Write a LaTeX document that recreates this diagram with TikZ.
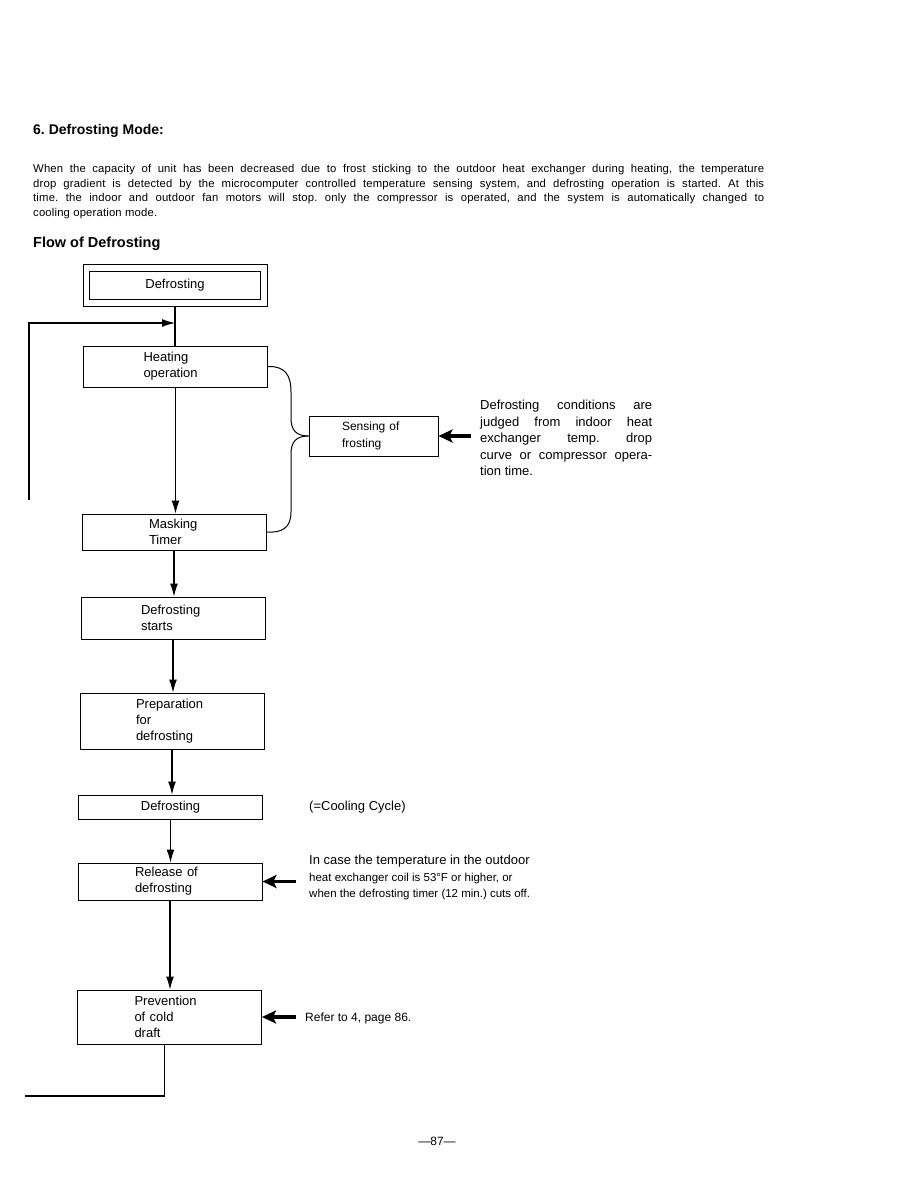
\documentclass[tikz,border=0pt]{standalone}
\usepackage{fontspec}
\setmainfont{Liberation Sans}
\newfontfamily\bodyfont{Liberation Sans}[LetterSpace=1.5]
\usepackage{tikz}
\usetikzlibrary{arrows.meta,positioning}
\frenchspacing

\begin{document}
\begin{tikzpicture}[x=1pt, y=-1pt,
    stepbox/.style={rectangle, draw, line width=1pt, minimum width=184pt, text width=#1, align=left, inner sep=0pt, font=\fontsize{13}{16}\selectfont},
    stepbox/.default=70pt,
    note/.style={align=left, inner sep=0pt, font=\fontsize{13}{16.5}\selectfont},
    flow/.style={-{Latex[length=13pt,width=8pt]}, line width=1.1pt},
    push/.style={-{Stealth[length=14pt,width=13pt,inset=3pt]}, line width=3.5pt}]
    \useasboundingbox[fill=white] (0,0) rectangle (918,1188);

    % Heading and text
    \node[anchor=base west, inner sep=0pt, font=\bfseries\fontsize{14}{16}\selectfont] (title) at (33,135) {6. Defrosting Mode:};
    \node[anchor=north west, text width=731pt, align=justify, inner sep=0pt, font=\bodyfont\fontsize{11.3}{14.7}\selectfont] (intro) at (33,164)
        {When the capacity of unit has been decreased due to frost sticking to the outdoor heat exchanger during heating, the temperature\linebreak
        drop gradient is detected by the microcomputer controlled temperature sensing system, and defrosting operation is started. At this\linebreak
        time. the indoor and outdoor fan motors will stop. only the compressor is operated, and the system is automatically changed to\linebreak
        cooling operation mode.};
    \node[anchor=base west, inner sep=0pt, font=\bfseries\fontsize{14.5}{17}\selectfont] (flowtitle) at (33,247) {Flow of Defrosting};

    % Boxes
    \node[rectangle, draw, line width=1pt, double, double distance=5.5pt, minimum width=177.5pt, minimum height=35pt, outer sep=3.75pt, font=\fontsize{13}{16}\selectfont] (top) at (175,285.5) {Defrosting};
    \node[stepbox=64pt, minimum height=41pt] (heat) at (175.5,366.5) {Heating\\operation};
    \node[stepbox=50pt, minimum height=36pt] (mask) at (174,532) {Masking\\Timer};
    \node[stepbox=64pt, minimum height=42pt] (start) at (173,618) {Defrosting\\starts};
    \node[stepbox=72pt, minimum height=56pt] (prep) at (172,721) {Preparation\\for\\defrosting};
    \node[stepbox, align=center, minimum height=24pt] (defr) at (170.5,807) {Defrosting};
    \node[stepbox, minimum height=37pt] (release) at (170,881.5) {Release of\\defrosting};
    \node[stepbox, minimum height=54pt] (prev) at (169.5,1017) {Prevention\\of cold\\draft};
    \node[stepbox=63pt, minimum width=129pt, minimum height=40pt, font=\fontsize{12}{17}\selectfont] (sens) at (373.5,436) {Sensing of\\frosting};

    % Notes
    \node[note, anchor=north west, text width=172pt, align=justify] (cond) at (480,400)
        {Defrosting conditions are\linebreak judged from indoor heat\linebreak exchanger temp. drop\linebreak curve or compressor opera-\linebreak tion time.};
    \node[note, anchor=west] (cool) at (309,807) {(=Cooling Cycle)};
    \node[note, anchor=north west] (case) at (309,855)
        {In case the temperature in the outdoor\\
        \fontsize{11.5}{15.5}\selectfont heat exchanger coil is 53\textdegree F or higher, or\\
        \fontsize{11.5}{15.5}\selectfont when the defrosting timer (12 min.) cuts off.};
    \node[note, anchor=west, font=\fontsize{12}{14}\selectfont] (refer) at (305,1018) {Refer to 4, page 86.};
    \node[inner sep=0pt, font=\fontsize{12}{14}\selectfont] (page) at (437,1141) {---87---};

    % Arrows
    \draw[line width=1.1pt] (top.south) -- (top.south |- heat.north);
    \draw[flow] (heat.south) -- (heat.south |- mask.north);
    \draw[flow] (mask.south) -- (mask.south |- start.north);
    \draw[flow] (start.south) -- (start.south |- prep.north);
    \draw[flow] (prep.south) -- (prep.south |- defr.north);
    \draw[flow] (defr.south) -- (defr.south |- release.north);
    \draw[flow] (release.south) -- (release.south |- prev.north);

    % Brace to sensing
    \draw[line width=1pt] (heat.east) .. controls (285,366) and (291,375) .. (291,392) -- (291,418) .. controls (291,430) and (296,436) .. (sens.west);
    \draw[line width=1pt] (sens.west) .. controls (296,436) and (291,442) .. (291,454) -- (291,512) .. controls (291,528) and (282,533) .. (mask.east);

    % Thick arrows
    \coordinate (c1) at (471,436);
    \coordinate (c2) at (296,881.5);
    \coordinate (c3) at (296,1017);
    \draw[push] (c1) -- (sens.east);
    \draw[push] (c2) -- (release.east);
    \draw[push] (c3) -- (prev.east);

    % Return loop
    \coordinate (loopcut) at (29,500);
    \coordinate (loopin) at (29,323);
    \coordinate (loopend) at (25,1096);
    \draw[flow] (loopcut) -- (loopin) -- (loopin -| top.south);
    \draw[line width=1.1pt] ([xshift=-5pt]prev.south) |- (loopend);
\end{tikzpicture}
\end{document}
